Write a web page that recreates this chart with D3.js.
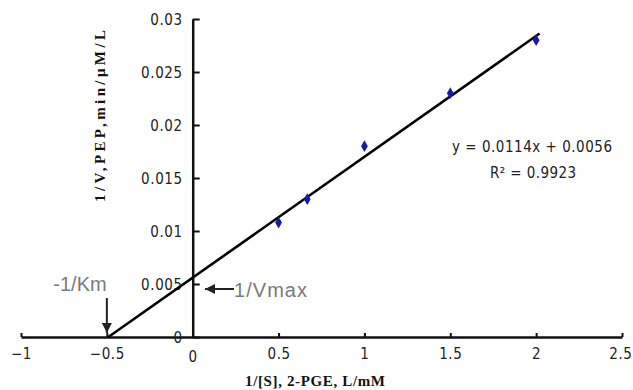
<!DOCTYPE html>
<html>
<head>
<meta charset="utf-8">
<script src="https://cdn.jsdelivr.net/npm/d3@7"></script>
<style>
  body { margin: 0; background: #fff; }
  .num { font-family: "DejaVu Sans Condensed", "DejaVu Sans", sans-serif; font-stretch: condensed; font-size: 15px; fill: #222; }
  .tick text { font-family: "DejaVu Sans Condensed", "DejaVu Sans", sans-serif; font-stretch: condensed; font-size: 15px; letter-spacing: 0.6px; fill: #222; }
</style>
</head>
<body>
<svg id="chart" width="633" height="390"></svg>
<script>
// Lineweaver-Burk data
const invS = [0.5, 0.667, 1, 1.5, 2];
const invV = [0.0108, 0.013, 0.018, 0.023, 0.028];
const xTicks = [-1, -0.5, 0, 0.5, 1, 1.5, 2, 2.5];
const yTicks = [0, 0.005, 0.01, 0.015, 0.02, 0.025, 0.03];
const slope = 0.0114, intercept = 0.0056;
const fitLines = ["y = 0.0114x + 0.0056", "R² = 0.9923"];

const svg = d3.select('#chart');
const x = d3.scaleLinear().domain([-1, 2.5]).range([21, 622]);
const y = d3.scaleLinear().domain([0, 0.03]).range([337, 19]);

// x axis
const xAxis = svg.append('g').attr('transform', `translate(0,${y(0)})`)
  .call(d3.axisBottom(x).tickValues(xTicks).tickSize(0).tickPadding(11).tickFormat(d3.format('')));
xAxis.select('.domain').attr('stroke', '#111').attr('stroke-width', 2.5);
xAxis.selectAll('.tick').append('line').attr('y1', 0).attr('y2', -4).attr('stroke', '#111').attr('stroke-width', 2);
xAxis.selectAll('.tick').filter(d => d === 0).remove();
xAxis.selectAll('.tick').filter(d => d === 2.5).select('text').attr('text-anchor', 'end').attr('x', 10);

// y axis (ticks point inward)
const yAxis = svg.append('g').attr('transform', `translate(${x(0)},0)`)
  .call(d3.axisLeft(y).tickValues(yTicks).tickSize(0).tickPadding(10).tickFormat(d3.format('')));
yAxis.select('.domain').attr('stroke', '#111').attr('stroke-width', 2.5);
yAxis.selectAll('.tick').append('line').attr('x1', 0).attr('x2', 7).attr('stroke', '#111').attr('stroke-width', 2);
yAxis.selectAll('.tick').filter(d => d === 0).select('line').remove();
yAxis.selectAll('.tick text').attr('dy', '0.35em');
// x=0 label sits under the y axis
svg.append('text').attr('class', 'num').attr('x', x(0)).attr('y', y(0) + 25).attr('text-anchor', 'middle').text('0');

// trend line
const x0 = -intercept / slope, x1 = 2.02;
svg.append('line')
  .attr('x1', x(x0)).attr('y1', y(slope * x0 + intercept))
  .attr('x2', x(x1)).attr('y2', y(slope * x1 + intercept))
  .attr('stroke', '#000').attr('stroke-width', 2.6);

// points
svg.append('g').selectAll('path').data(invS).join('path')
  .attr('d', d3.symbol(d3.symbolDiamond, 40))
  .attr('transform', (d, i) => `translate(${x(d)},${y(invV[i])})`)
  .attr('fill', '#1a1aa8');

// arrows
const defs = svg.append('defs');
defs.append('marker').attr('id', 'ah').attr('viewBox', '0 0 10 10').attr('refX', 10).attr('refY', 5)
  .attr('markerWidth', 5).attr('markerHeight', 5).attr('orient', 'auto')
  .append('path').attr('d', 'M0,0L10,5L0,10Z').attr('fill', '#222');
svg.append('line').attr('x1', x(-0.5)).attr('y1', 298).attr('x2', x(-0.5)).attr('y2', 333)
  .attr('stroke', '#222').attr('stroke-width', 2).attr('marker-end', 'url(#ah)');
svg.append('line').attr('x1', 234).attr('y1', 289).attr('x2', 205).attr('y2', 289)
  .attr('stroke', '#222').attr('stroke-width', 2).attr('marker-end', 'url(#ah)');
svg.append('text').attr('x', 80).attr('y', 291).attr('text-anchor', 'middle')
  .style('font-family', '"Liberation Sans", Arial, sans-serif').style('font-size', '20px').attr('fill', '#7a7a7a').text('-1/Km');
svg.append('text').attr('x', 234).attr('y', 297)
  .style('font-family', '"Liberation Sans", Arial, sans-serif').style('font-size', '20px').attr('fill', '#7a7a7a')
  .attr('textLength', 73).text('1/Vmax');

// regression text
svg.append('text').attr('class', 'num').attr('x', 532).attr('y', 152).attr('text-anchor', 'middle')
  .attr('textLength', 160).text(fitLines[0]);
svg.append('text').attr('class', 'num').attr('x', 533).attr('y', 178).attr('text-anchor', 'middle')
  .attr('textLength', 86).text(fitLines[1]);

// axis titles
svg.append('text').attr('x', 315).attr('y', 386).attr('text-anchor', 'middle')
  .style('font-family', '"Liberation Serif", "Times New Roman", serif').style('font-weight', 'bold').style('font-size', '15px')
  .attr('fill', '#111').attr('textLength', 140).text('1/[S], 2-PGE, L/mM');
svg.append('text').attr('transform', 'translate(105,116) rotate(-90)').attr('text-anchor', 'middle')
  .style('font-family', '"Liberation Serif", "Times New Roman", serif').style('font-weight', 'bold').style('font-size', '15px')
  .attr('fill', '#111').attr('textLength', 172).text('1/V,PEP,min/μM/L');
</script>
</body>
</html>
